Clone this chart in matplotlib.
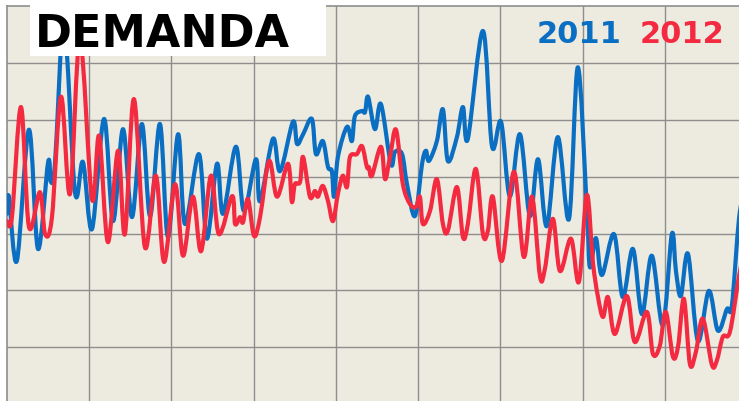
import numpy as np
import matplotlib.pyplot as plt
from matplotlib.path import Path
from matplotlib.patches import PathPatch, Rectangle

# demanda diaria (días desde el inicio, valor)
dias_2011 = [0, 0.7, 3.6, 8.0, 11.3, 15.0, 16.0, 17.5, 20.8, 24.8, 27.7, 31.0, 35.4, 38.7,
             42.3, 45.6, 49.2, 52.2, 55.8, 58.7, 62.4, 64.9, 70.0, 72.9, 76.6, 78.8, 83.5,
             86.4, 90.8, 92.3, 97.0, 99.6, 104.3, 105.8, 108.0, 111.2, 112.7, 115.2, 117.1,
             118.5, 119.3, 120.7, 124.0, 125.8, 126.9, 129.5, 130.6, 131.7, 134.2, 136.4,
             140.0, 141.5, 144.1, 145.9, 148.8, 151.4, 152.8, 153.9, 156.8, 159.0, 160.8,
             164.1, 166.3, 168.1, 173.6, 176.9, 180.2, 183.4, 187.1, 190.7, 193.7, 196.9,
             200.9, 205.0, 208.2, 211.5, 212.6, 214.8, 217.0, 221.4, 224.6, 228.3, 231.6,
             235.2, 239.2, 242.5, 244.0, 245.8, 248.4, 252.0, 256.0, 259.3, 262.6, 264.4,
             267.0, 269.1]
demanda_2011 = [33.5, 36.5, 25.2, 48.3, 27.3, 42.6, 39.1, 42.3, 66.9, 37.3, 42.6, 30.8, 50.2, 32.2,
                48.4, 32.9, 49.3, 33.1, 49.3, 29.4, 47.5, 31.7, 44.0, 29.1, 42.3, 33.5, 45.3,
                34.0, 43.1, 35.7, 46.7, 41.0, 49.7, 45.8, 47.5, 50.2, 44.0, 46.3, 41.7,
                41.0, 36.5, 43.5, 48.8, 46.3, 50.7, 51.6, 51.4, 54.1, 48.4, 52.8,
                42.3, 44.4, 44.0, 38.7, 33.1, 42.3, 44.6, 42.8, 46.3, 51.9, 42.8,
                47.0, 52.3, 46.7, 65.7, 45.4, 49.7, 36.6, 47.5, 33.1, 43.1, 31.3,
                47.0, 32.6, 59.3, 34.3, 24.1, 29.2, 22.7, 29.9, 18.8, 27.3, 15.8,
                26.1, 13.9, 29.9, 23.4, 19.0, 26.4, 11.1, 19.9, 12.9, 16.7, 17.3,
                32.6, 38.0]

dias_2012 = [0, 1.8, 5.1, 8.0, 12.0, 13.9, 16.4, 19.7, 23.0, 26.6, 31.0, 33.6, 36.8, 40.5,
             43.0, 46.3, 50.3, 54.3, 57.3, 61.3, 64.2, 67.8, 70.8, 74.4, 77.3, 82.1, 83.2,
             85.0, 86.1, 87.9, 90.1, 92.3, 95.6, 98.5, 102.5, 103.9, 105.0, 106.9, 108.0,
             110.5, 112.3, 113.4, 115.2, 117.1, 118.9, 120.7, 122.5, 124.0, 125.1, 127.6,
             129.5, 131.3, 132.0, 133.1, 136.4, 137.9, 139.7, 141.9, 144.4, 147.0, 149.2,
             150.6, 151.7, 154.3, 156.8, 159.0, 160.8, 164.1, 166.3, 168.1, 171.0, 173.6,
             175.4, 177.2, 180.5, 184.9, 188.5, 191.5, 194.4, 196.2, 199.1, 201.7, 205.7,
             208.6, 211.5, 213.7, 215.5, 217.4, 219.2, 221.7, 226.1, 229.0, 233.4, 235.6,
             238.1, 240.3, 242.9, 244.8, 246.9, 249.1, 251.3, 253.8, 257.1, 258.9, 261.1,
             263.7, 267.0, 269.1]
demanda_2012 = [32.2, 32.9, 52.3, 31.2, 37.3, 29.9, 32.9, 54.1, 37.0, 64.3, 36.1, 47.2, 28.5, 44.6,
                29.9, 53.7, 27.6, 40.2, 25.0, 38.7, 26.1, 36.5, 26.9, 40.2, 29.9, 36.6, 31.7,
                32.9, 32.0, 36.1, 29.6, 32.9, 42.8, 36.5, 42.3, 35.6, 38.7, 39.1, 43.5,
                36.5, 37.5, 36.5, 38.4, 35.7, 32.2, 37.0, 40.2, 38.2, 43.5, 44.0,
                45.4, 41.7, 41.7, 40.2, 45.3, 39.6, 43.5, 48.3, 38.7, 35.2, 34.7,
                36.5, 31.7, 34.0, 39.6, 31.7, 30.5, 38.2, 29.4, 31.7, 41.4, 29.9,
                30.5, 36.5, 25.2, 40.9, 25.9, 36.5, 22.5, 23.8, 32.6, 23.4, 29.1,
                21.5, 36.8, 25.0, 19.0, 15.3, 18.8, 12.3, 19.0, 10.9, 16.2, 8.8,
                10.2, 16.2, 8.3, 10.2, 18.5, 7.0, 9.2, 15.0, 6.9, 7.6, 11.8,
                12.7, 22.5, 27.0]

AZUL = '#0a6fc2'
ROJO = '#f42a40'
FONDO = '#edeae0'
GRIS = '#8e8e8e'


def curva(x, y):
    # curva suave tipo Catmull-Rom a través de los puntos
    pts = np.column_stack([x, y])
    p = np.vstack([pts[0], pts, pts[-1]])
    verts = [pts[0]]
    codes = [Path.MOVETO]
    for i in range(1, len(p) - 2):
        c1 = p[i] + (p[i + 1] - p[i - 1]) / 6
        c2 = p[i + 1] - (p[i + 2] - p[i]) / 6
        verts += [c1, c2, p[i + 1]]
        codes += [Path.CURVE4] * 3
    return Path(verts, codes)


W, H = 739, 402
fig = plt.figure(figsize=(W / 100, H / 100), dpi=100)
fig.patch.set_facecolor('white')
ax = fig.add_axes([7 / W, 0, (W - 7) / W, (H - 7) / H])
ax.set_facecolor(FONDO)
ax.set_xlim(0, 267.0)
ax.set_ylim(0.5, 70.1)

ax.set_xticks(np.arange(30, 267, 30))
ax.set_yticks(np.arange(10, 70, 10))
ax.tick_params(length=0, labelbottom=False, labelleft=False)
ax.grid(True, color=GRIS, lw=1.0)
ax.set_axisbelow(True)
for s in ['right', 'bottom']:
    ax.spines[s].set_visible(False)
for s in ['left', 'top']:
    ax.spines[s].set_color(GRIS)
    ax.spines[s].set_linewidth(1.2)

for d, v, c in [(dias_2011, demanda_2011, AZUL), (dias_2012, demanda_2012, ROJO)]:
    ax.add_patch(PathPatch(curva(d, v), facecolor='none', edgecolor=c, lw=3.0,
                           joinstyle='round', capstyle='round', zorder=3))

# caja del título
fig.patches.append(Rectangle((30 / W, 1 - 57 / H), 296 / W, 57 / H,
                             transform=fig.transFigure, facecolor='white',
                             edgecolor='none', zorder=5))
fig.text(35 / W, 1 - 47 / H, 'DEMANDA', fontsize=32, fontweight='bold',
         color='black', va='baseline', ha='left', zorder=6)
fig.text(537 / W, 1 - 43 / H, '2011', fontsize=22, fontweight='bold',
         color=AZUL, va='baseline', ha='left', zorder=6)
fig.text(640 / W, 1 - 43 / H, '2012', fontsize=22, fontweight='bold',
         color=ROJO, va='baseline', ha='left', zorder=6)

fig.savefig('out.png', dpi=100, facecolor=fig.get_facecolor())
